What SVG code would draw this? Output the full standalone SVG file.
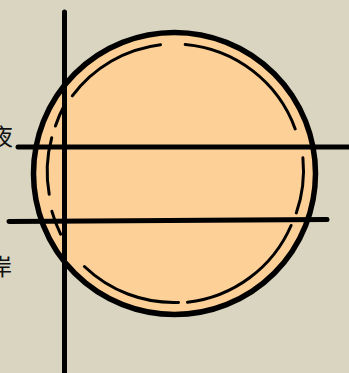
<svg xmlns="http://www.w3.org/2000/svg" width="349" height="373" viewBox="0 0 349 373">
<style>
.ln{stroke:#000;stroke-width:5;stroke-linecap:round;fill:none}
.in{stroke:#000;stroke-width:3;stroke-linecap:round;fill:none}
.tx{font-family:"Noto Sans CJK SC","Noto Sans CJK JP",sans-serif;font-size:23px;fill:#111}
</style>
<rect width="349" height="373" fill="#d9d5c0"/>
<g id="ball">
<circle cx="174.5" cy="173.5" r="141" fill="#fcd097" stroke="#000" stroke-width="5.5"/>
<path class="in" d="M72.3,95.9 A129,129 0 0 1 160.5,44.7 M185.2,44.5 A129,129 0 0 1 295.2,128.9 M302.9,157.8 A129,129 0 0 1 296.3,212.9 M291.1,225.5 A129,129 0 0 1 187.5,302.3 M178.5,302.4 A129,129 0 0 1 84.4,266.5 M60.6,234.1 A129,129 0 0 1 51.9,211.3 M49.2,194.3 A129,129 0 0 1 51.7,137.8 M55.4,126.0 A129,129 0 0 1 64,106"/>
</g>
<g id="connectors">
<line class="ln" x1="64.5" y1="12" x2="64.5" y2="373"/>
<line class="ln" x1="18" y1="147" x2="349" y2="147"/>
<line class="ln" x1="9" y1="221.5" x2="327" y2="219.5"/>
</g>
<g id="labels">
<text class="tx" x="13" y="145" text-anchor="end">夜</text>
<text class="tx" x="12" y="275" text-anchor="end">岸</text>
</g>
</svg>
